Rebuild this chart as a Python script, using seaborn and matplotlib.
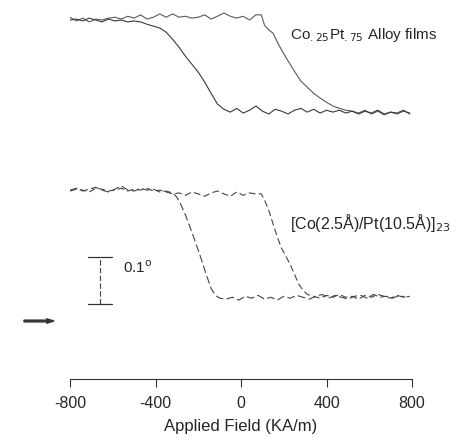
import numpy as np
import pandas as pd
import matplotlib
matplotlib.use("Agg")
import matplotlib.pyplot as plt
import seaborn as sns

# ---- data: applied field (KA/m) and Kerr rotation (degrees) ----
# Co.25Pt.75 alloy film loop
alloy_dn_field = [-800,-770,-740,-710,-680,-650,-620,-590,-560,-530,-500,-470,-440,-410,-380,-350,
                  -320,-290,-260,-230,-200,-170,-140,-110,-80,-50,-20,10,40,70,95,
                  110,130,150,170,190,220,250,280,310,340,370,400,430,460,490,520,
                  550,580,610,640,670,700,730,760,790]
alloy_dn_rot = [0.102,0.094,0.100,0.092,0.098,0.096,0.100,0.102,0.098,0.104,0.100,0.107,0.098,0.102,0.109,0.102,
                0.109,0.102,0.104,0.100,0.102,0.107,0.098,0.104,0.111,0.104,0.100,0.104,0.096,0.107,0.107,
                0.085,0.075,0.068,0.049,0.032,0.009,-0.013,-0.034,-0.047,-0.060,-0.070,-0.079,-0.087,-0.092,-0.096,-0.098,
                -0.102,-0.096,-0.104,-0.098,-0.106,-0.100,-0.104,-0.098,-0.102]
alloy_up_field = [-800,-770,-740,-710,-680,-650,-620,-590,-560,-530,-500,
                  -470,-440,-410,-380,-350,-320,-290,-260,-230,-200,-170,-140,-110,-80,
                  -50,-20,10,40,70,100,130,160,190,220,250,280,310,340,370,400,430,460,490,
                  520,550,580,610,640,670,700,730,760,790]
alloy_up_rot = [0.096,0.098,0.094,0.100,0.096,0.092,0.098,0.094,0.096,0.092,0.094,
                0.092,0.087,0.083,0.079,0.070,0.055,0.038,0.019,0.002,-0.015,-0.036,-0.060,-0.083,-0.094,
                -0.100,-0.092,-0.102,-0.096,-0.087,-0.098,-0.104,-0.094,-0.098,-0.104,-0.096,-0.092,-0.100,-0.094,
                -0.102,-0.096,-0.100,-0.096,-0.102,-0.098,-0.104,-0.098,-0.102,-0.096,-0.104,-0.100,-0.102,-0.096,-0.104]

# [Co(2.5A)/Pt(10.5A)]23 multilayer loop
ml_left_field = [-800,-770,-740,-710,-680,-650,-620,-590,-560,-530,-500,-470,-440,-410,-380,-350,
                 -320,-300,-280,-260,-240,-220,-200,-180,-160,-140,-120,-100,
                 -70,-40,-10,20,50,80,110,140,170,200,230,260,290,320,350,380,410,440,470,500,
                 530,560,590,620,650,680,710,740,770]
ml_left_rot = [0.115,0.119,0.113,0.117,0.121,0.115,0.111,0.117,0.124,0.115,0.113,0.119,0.115,0.117,0.111,0.113,
               0.109,0.100,0.083,0.062,0.038,0.013,-0.013,-0.040,-0.068,-0.094,-0.109,-0.115,
               -0.117,-0.113,-0.119,-0.111,-0.115,-0.109,-0.117,-0.113,-0.119,-0.111,-0.115,-0.109,-0.113,-0.117,
               -0.111,-0.107,-0.115,-0.109,-0.113,-0.117,-0.111,-0.109,-0.115,-0.107,-0.113,-0.111,-0.115,-0.109,-0.113]
ml_right_field = [-800,-770,-740,-710,-680,-650,-620,-590,-560,-530,-500,-470,-440,-410,-380,-350,
                  -320,-290,-260,-230,-200,-170,-140,-110,-80,-50,-20,10,40,70,
                  95,110,130,150,170,190,210,230,250,270,290,310,340,
                  370,400,430,460,490,520,550,580,610,640,670,700,730,760,790]
ml_right_rot = [0.113,0.117,0.115,0.111,0.119,0.117,0.113,0.115,0.119,0.113,0.117,0.115,0.119,0.113,0.115,0.111,
                0.107,0.109,0.104,0.111,0.107,0.102,0.109,0.113,0.107,0.102,0.111,0.104,0.109,0.107,
                0.107,0.094,0.072,0.043,0.015,-0.009,-0.026,-0.043,-0.064,-0.085,-0.098,-0.107,-0.111,
                -0.115,-0.109,-0.113,-0.107,-0.113,-0.111,-0.117,-0.109,-0.113,-0.107,-0.111,-0.115,-0.109,-0.113,-0.111]

alloy_offset = 0.668
ml_offset = 0.287
xticks = [-800, -400, 0, 400, 800]
xtick_labels = ["-800", "-400", "0", "400", "800"]

sns.set_style("white")
plt.rcParams['font.family'] = ['Liberation Sans', 'DejaVu Sans']

fig = plt.figure(figsize=(4.58, 4.44), dpi=100)
ax = fig.add_axes([70/458, (444-379)/444, 342/458, 379/444])

def branch(field, rot, off):
    return pd.DataFrame({"field": field, "kerr": np.array(rot) + off})

sns.lineplot(data=branch(alloy_dn_field, alloy_dn_rot, alloy_offset), x="field", y="kerr",
             ax=ax, color="#5a5a5a", lw=0.8, estimator=None)
sns.lineplot(data=branch(alloy_up_field, alloy_up_rot, alloy_offset), x="field", y="kerr",
             ax=ax, color="#3a3a3a", lw=0.8, estimator=None)
sns.lineplot(data=branch(ml_left_field, ml_left_rot, ml_offset), x="field", y="kerr",
             ax=ax, color="#444444", lw=0.8, estimator=None, dashes=False, linestyle=(0, (7, 3)))
sns.lineplot(data=branch(ml_right_field, ml_right_rot, ml_offset), x="field", y="kerr",
             ax=ax, color="#444444", lw=0.8, estimator=None, dashes=False, linestyle=(0, (6, 3)))

# 0.1 degree scale bar
bar_x, bar_lo, bar_hi, cap = -660, 0.160, 0.260, 56
ax.plot([bar_x, bar_x], [bar_lo, bar_hi], color="#444444", lw=0.8, linestyle=(0, (5, 2)))
ax.plot([bar_x - cap, bar_x + cap], [bar_hi, bar_hi], color="#333333", lw=0.9)
ax.plot([bar_x - cap, bar_x + cap], [bar_lo, bar_lo], color="#333333", lw=0.9)
ax.text(-552, 0.236, "0.1$^{\\mathrm{o}}$", fontsize=11, va="center", ha="left")

ax.text(229, 0.732, "Co$_{.25}$Pt$_{.75}$ Alloy films", fontsize=11, va="center", ha="left")
ax.text(229, 0.332, "[Co(2.5Å)/Pt(10.5Å)]$_{23}$", fontsize=11.5, va="center", ha="left")

ax.set_xlim(-800, 800)
ax.set_ylim(0, 0.8066)
ax.set_xticks(xticks)
ax.set_xticklabels(xtick_labels, fontsize=11.5)
ax.set_yticks([])
ax.set_xlabel("Applied Field (KA/m)", fontsize=12, labelpad=6)
ax.set_ylabel("")
sns.despine(ax=ax, left=True, top=True, right=True)
ax.spines['bottom'].set_linewidth(0.8)
ax.spines['bottom'].set_color("#333333")
ax.tick_params(axis='x', direction='out', length=6, width=0.8, color="#333333", pad=6, bottom=True)
ax.patch.set_alpha(0)

# small arrow mark at left margin
fig.patches.append(matplotlib.patches.FancyArrow(24/458, (444-321)/444, 30/458, 0,
                   width=0.004, head_width=0.010, head_length=0.016,
                   length_includes_head=True, transform=fig.transFigure, color="#333333"))

fig.savefig("out.png", dpi=100)
